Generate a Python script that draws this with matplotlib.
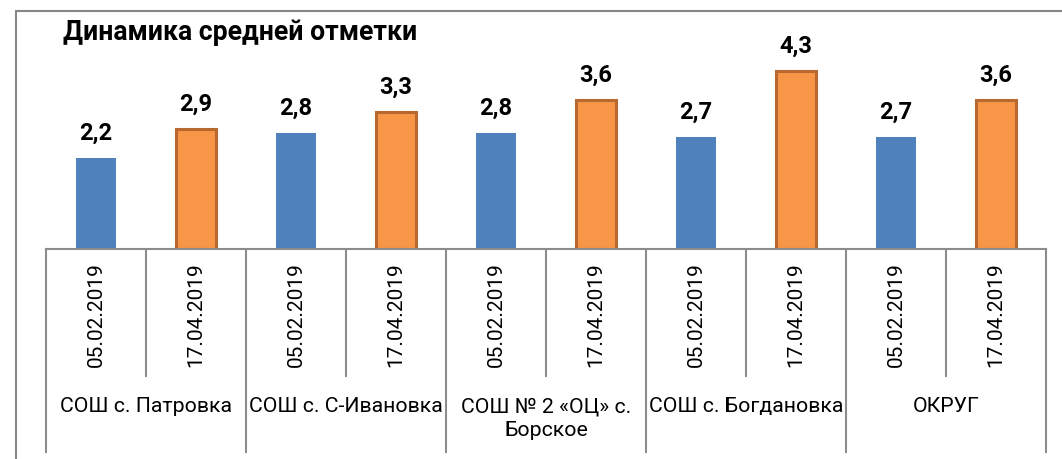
import matplotlib
matplotlib.use('Agg')
import matplotlib.pyplot as plt
import matplotlib.transforms as mtransforms
from matplotlib.patches import Rectangle

plt.rcParams['font.family'] = ['Roboto', 'DejaVu Sans']

# data
schools = ['СОШ с. Патровка', 'СОШ с. С-Ивановка', 'СОШ № 2 «ОЦ» с.\nБорское',
           'СОШ с. Богдановка', 'ОКРУГ']
dates = ['05.02.2019', '17.04.2019']
feb_vals = [2.2, 2.8, 2.8, 2.7, 2.7]
apr_vals = [2.9, 3.3, 3.6, 4.3, 3.6]

blue = '#4F81BD'
orange = '#F79646'
orange_edge = '#B7692F'
grid_col = '#8C8C8C'

W, H = 1062, 459
fig = plt.figure(figsize=(W / 100, H / 100), dpi=100)

# axes placed in pixel terms: baseline y=249, value 5 at y=41.5
x0, x1 = 46, 1046
yb, yt = 249, 41.5
ax = fig.add_axes([x0 / W, (H - yb) / H, (x1 - x0) / W, (yb - yt) / H])
ax.set_xlim(-0.5, 2 * len(schools) - 0.5)
ax.set_ylim(0, 5)
ax.axis('off')

xs_feb = [2 * i for i in range(len(schools))]
xs_apr = [2 * i + 1 for i in range(len(schools))]

ax.bar(xs_feb, feb_vals, width=0.4, color=blue, zorder=2)
ax.bar(xs_apr, apr_vals, width=0.4, color=orange, edgecolor=orange_edge,
       linewidth=2.2, zorder=2)

for x, v in zip(xs_feb + xs_apr, feb_vals + apr_vals):
    ax.annotate(f'{v:.1f}'.replace('.', ','), (x, v), xytext=(0, 13),
                textcoords='offset pixels', ha='center', va='bottom',
                fontsize=17, fontweight='bold', color='#000000')

# category table lines
trans = mtransforms.blended_transform_factory(ax.transData, ax.transAxes)
ph = yb - yt


def fy(py):
    return (yb - py) / ph


ax.plot([-0.5, 2 * len(schools) - 0.5], [0, 0], color=grid_col, lw=1.5,
        transform=trans, clip_on=False)
for i in range(len(schools) + 1):
    xg = 2 * i - 0.5
    ax.plot([xg, xg], [0, fy(452)], color=grid_col, lw=1.5,
            transform=trans, clip_on=False)
for i in range(len(schools)):
    xm = 2 * i + 0.5
    ax.plot([xm, xm], [0, fy(376)], color=grid_col, lw=1.5,
            transform=trans, clip_on=False)

for i in range(len(schools)):
    for j, d in enumerate(dates):
        ax.text(2 * i + j, fy(262), d, rotation=90, ha='center', va='top',
                fontsize=15, transform=trans, clip_on=False)
    ax.text(2 * i + 0.5, fy(397), schools[i], ha='center', va='top',
            fontsize=15.3, linespacing=1.3, transform=trans, clip_on=False)

fig.text(63 / W, (H - 33) / H, 'Динамика средней отметки', ha='left',
         va='center', fontsize=19.2, fontweight='bold')

# chart border
fig.patches.append(Rectangle((16 / W, -0.1), 1.2, (H - 11) / H + 0.1,
                             transform=fig.transFigure, fill=False,
                             edgecolor='#868686', lw=1.5))

fig.savefig('out.png', dpi=100)
